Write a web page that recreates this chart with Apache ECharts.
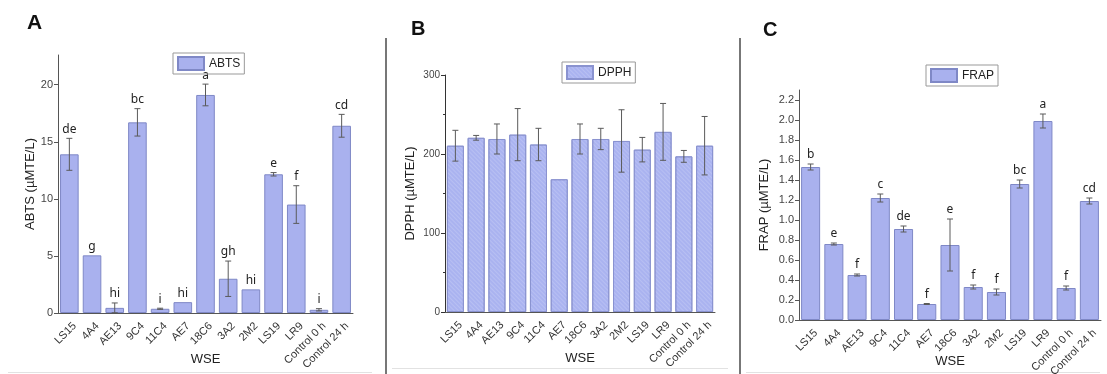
<!DOCTYPE html>
<html>
<head>
<meta charset="utf-8">
<script src="https://cdn.jsdelivr.net/npm/echarts@6/dist/echarts.min.js"></script>
<style>
  html, body { margin: 0; padding: 0; background: #fff; }
  #chart { width: 1107px; height: 374px; }
</style>
</head>
<body>
<div id="chart"></div>
<script>
var categories = ['LS15', '4A4', 'AE13', '9C4', '11C4', 'AE7', '18C6', '3A2', '2M2', 'LS19', 'LR9', 'Control 0 h', 'Control 24 h'];

// ABTS (A)
var abts = [13.9, 5.05, 0.45, 16.7, 0.37, 0.95, 19.1, 3.0, 2.07, 12.15, 9.5, 0.28, 16.4];
var abtsErr = [1.4, 0, 0.43, 1.2, 0.05, 0, 0.95, 1.55, 0, 0.15, 1.65, 0.1, 1.0];
var abtsLetters = ['de', 'g', 'hi', 'bc', 'i', 'hi', 'a', 'gh', 'hi', 'e', 'f', 'i', 'cd'];
var abtsTicks = [0, 5, 10, 15, 20];

// DPPH (B)
var dpph = [210.5, 220.5, 219, 224.5, 212, 168, 219, 219, 216.5, 205.5, 228, 197, 210.5];
var dpphErr = [19.5, 3, 19, 33, 20.5, 0, 19, 13.5, 39.5, 15.5, 36, 7.5, 37];

// FRAP (C)
var frap = [1.53, 0.76, 0.45, 1.22, 0.91, 0.16, 0.75, 0.33, 0.28, 1.36, 1.99, 0.32, 1.19];
var frapErr = [0.03, 0.01, 0.01, 0.04, 0.03, 0.005, 0.26, 0.02, 0.03, 0.04, 0.07, 0.02, 0.03];
var frapLetters = ['b', 'e', 'f', 'c', 'de', 'f', 'e', 'f', 'f', 'bc', 'a', 'f', 'cd'];
var frapTicks = [0, 0.2, 0.4, 0.6, 0.8, 1.0, 1.2, 1.4, 1.6, 1.8, 2.0, 2.2];

var FONT = 'Liberation Sans';
var barFill = '#a9b1ee';
var barLine = '#7f88c6';

function errData(vals, errs) {
  var out = [];
  for (var i = 0; i < vals.length; i++) {
    out.push([i, vals[i], vals[i] + errs[i], vals[i] - errs[i]]);
  }
  return out;
}

function errRender(errs, letters) {
  return function (params, api) {
    var idx = params.dataIndex;
    var top = api.coord([api.value(0), api.value(2)]);
    var bot = api.coord([api.value(0), api.value(3)]);
    var x = top[0];
    var st = { stroke: '#5a5a5a', lineWidth: 1 };
    var kids = [];
    if (errs[idx] > 0) {
      kids.push({ type: 'line', shape: { x1: x, y1: top[1], x2: x, y2: bot[1] }, style: st });
      kids.push({ type: 'line', shape: { x1: x - 3, y1: top[1], x2: x + 3, y2: top[1] }, style: st });
      kids.push({ type: 'line', shape: { x1: x - 3, y1: bot[1], x2: x + 3, y2: bot[1] }, style: st });
    }
    if (letters) {
      kids.push({
        type: 'text', x: x, y: top[1] - 3,
        style: { text: letters[idx], align: 'center', verticalAlign: 'bottom', fill: '#222', font: '12px "Noto Sans"' }
      });
    }
    return { type: 'group', children: kids };
  };
}

function xAx(gi, gap) {
  return {
    type: 'category', gridIndex: gi, data: categories,
    name: 'WSE', nameLocation: 'middle', nameGap: gap, nameMoveOverlap: false,
    nameTextStyle: { fontFamily: FONT, fontSize: 13, color: '#222', verticalAlign: 'top' },
    axisLine: { lineStyle: { color: '#555', width: 1 } },
    axisTick: { alignWithLabel: true, length: 4, lineStyle: { color: '#555' } },
    axisLabel: {
      rotate: 45, interval: 0, fontFamily: FONT, fontSize: 11, color: '#333',
      margin: 6, verticalAlign: 'top', padding: [2, 0, 0, 0]
    }
  };
}

function legendBox(name, left, top) {
  return {
    data: [{ name: name, icon: 'rect' }], left: left, top: top, selectedMode: false,
    borderColor: '#999', borderWidth: 1, padding: [3, 4, 3, 4],
    itemWidth: 26, itemHeight: 13,
    textStyle: { fontFamily: FONT, fontSize: 12, color: '#222' }
  };
}

var chart = echarts.init(document.getElementById('chart'));

var option = {
  animation: false,
  backgroundColor: '#fff',
  title: [
    { text: 'A', left: 27, top: 13, padding: 0, textStyle: { fontFamily: FONT, fontWeight: 'bold', fontSize: 21, color: '#111' } },
    { text: 'B', left: 411, top: 19, padding: 0, textStyle: { fontFamily: FONT, fontWeight: 'bold', fontSize: 20, color: '#111' } },
    { text: 'C', left: 763, top: 20, padding: 0, textStyle: { fontFamily: FONT, fontWeight: 'bold', fontSize: 20, color: '#111' } }
  ],
  legend: [
    legendBox('ABTS', 173, 53),
    legendBox('DPPH', 562, 62),
    legendBox('FRAP', 926, 65)
  ],
  grid: [
    { left: 58, top: 55, width: 295, height: 258, outerBoundsMode: 'none' },
    { left: 445, top: 75, width: 270, height: 237, outerBoundsMode: 'none' },
    { left: 799, top: 90, width: 302, height: 230, outerBoundsMode: 'none' }
  ],
  xAxis: [xAx(0, 40), xAx(1, 40), xAx(2, 35)],
  yAxis: [
    {
      type: 'value', gridIndex: 0, min: 0, max: 22.6,
      name: 'ABTS (µMTE/L)', nameLocation: 'middle', nameGap: 21,
      nameTextStyle: { fontFamily: FONT, fontSize: 13, color: '#222' },
      axisLine: { show: true, lineStyle: { color: '#555' } },
      axisTick: { show: true, length: 4, customValues: abtsTicks, lineStyle: { color: '#555' } },
      axisLabel: { customValues: abtsTicks, fontFamily: FONT, fontSize: 11, color: '#444', margin: 5 },
      splitLine: { show: false }
    },
    {
      type: 'value', gridIndex: 1, min: 0, max: 300, interval: 100,
      name: 'DPPH (µMTE/L)', nameLocation: 'middle', nameGap: 28,
      nameTextStyle: { fontFamily: FONT, fontSize: 13, color: '#222' },
      axisLine: { show: true, lineStyle: { color: '#333' } },
      axisTick: { show: true, length: 4, lineStyle: { color: '#333' } },
      minorTick: { show: true, splitNumber: 2, length: 2, lineStyle: { color: '#333' } },
      axisLabel: { fontFamily: FONT, fontSize: 10, color: '#444', margin: 5 },
      splitLine: { show: false }
    },
    {
      type: 'value', gridIndex: 2, min: 0, max: 2.3,
      name: 'FRAP (µMTE/L)', nameLocation: 'middle', nameGap: 28,
      nameTextStyle: { fontFamily: FONT, fontSize: 13, color: '#222' },
      axisLine: { show: true, lineStyle: { color: '#555' } },
      axisTick: { show: true, length: 4, customValues: frapTicks, lineStyle: { color: '#555' } },
      axisLabel: {
        customValues: frapTicks, fontFamily: FONT, fontSize: 11, color: '#444', margin: 5,
        formatter: function (v) { return v.toFixed(1); }
      },
      splitLine: { show: false }
    }
  ],
  series: [
    {
      name: 'ABTS', type: 'bar', xAxisIndex: 0, yAxisIndex: 0, data: abts,
      barCategoryGap: '18%', z: 2,
      itemStyle: { color: barFill, borderColor: barLine, borderWidth: 1 }
    },
    {
      type: 'custom', xAxisIndex: 0, yAxisIndex: 0, z: 3,
      data: errData(abts, abtsErr), encode: { x: 0, y: [1, 2, 3] },
      renderItem: errRender(abtsErr, abtsLetters)
    },
    {
      name: 'DPPH', type: 'bar', xAxisIndex: 1, yAxisIndex: 1, data: dpph,
      barCategoryGap: '18%', z: 2,
      itemStyle: {
        color: '#aab3f0', borderColor: '#8a93d0', borderWidth: 1,
        decal: {
          symbol: 'rect', symbolSize: 1, color: 'rgba(255,255,255,0.16)',
          dashArrayX: [1, 0], dashArrayY: [1, 2], rotation: Math.PI / 4
        }
      }
    },
    {
      type: 'custom', xAxisIndex: 1, yAxisIndex: 1, z: 3,
      data: errData(dpph, dpphErr), encode: { x: 0, y: [1, 2, 3] },
      renderItem: errRender(dpphErr, null)
    },
    {
      name: 'FRAP', type: 'bar', xAxisIndex: 2, yAxisIndex: 2, data: frap,
      barCategoryGap: '18%', z: 2,
      itemStyle: { color: barFill, borderColor: barLine, borderWidth: 1 }
    },
    {
      type: 'custom', xAxisIndex: 2, yAxisIndex: 2, z: 3,
      data: errData(frap, frapErr), encode: { x: 0, y: [1, 2, 3] },
      renderItem: errRender(frapErr, frapLetters)
    }
  ],
  graphic: [
    // panel dividers
    { type: 'line', shape: { x1: 386, y1: 38, x2: 386, y2: 374 }, style: { stroke: '#777', lineWidth: 2 } },
    { type: 'line', shape: { x1: 740, y1: 38, x2: 740, y2: 374 }, style: { stroke: '#777', lineWidth: 2 } },
    { type: 'line', shape: { x1: 8, y1: 372.5, x2: 372, y2: 372.5 }, style: { stroke: '#e2e2e2', lineWidth: 1 } },
    { type: 'line', shape: { x1: 392, y1: 368.5, x2: 728, y2: 368.5 }, style: { stroke: '#e2e2e2', lineWidth: 1 } },
    { type: 'line', shape: { x1: 746, y1: 372.5, x2: 1100, y2: 372.5 }, style: { stroke: '#e2e2e2', lineWidth: 1 } }
  ]
};

chart.setOption(option);
</script>
</body>
</html>
